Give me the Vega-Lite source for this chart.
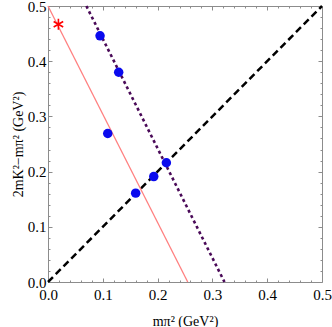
{
  "$schema": "https://vega.github.io/schema/vega-lite/v6.json",
  "width": 274,
  "height": 276,
  "autosize": {"type": "none"},
  "padding": {"left": 48, "top": 6, "right": 10, "bottom": 45},
  "background": "white",
  "config": {
    "view": {"stroke": "#8c8c8c", "strokeWidth": 1},
    "axis": {
      "grid": false,
      "domain": false,
      "tickColor": "#8c8c8c",
      "labelFont": "Liberation Serif",
      "labelFontSize": 15,
      "labelColor": "black",
      "labelFlush": false,
      "labelOverlap": false,
      "titleFont": "Liberation Serif",
      "titleFontSize": 14,
      "titleFontWeight": "normal",
      "titleColor": "black"
    }
  },
  "datasets": {
    "diag": [{"x": 0, "y": 0}, {"x": 0.5, "y": 0.5}],
    "pink": [{"x": 0, "y": 0.5}, {"x": 0.255, "y": 0}],
    "purple": [{"x": 0.07, "y": 0.5}, {"x": 0.322, "y": 0}],
    "pts": [
      {"x": 0.095, "y": 0.446},
      {"x": 0.129, "y": 0.380},
      {"x": 0.109, "y": 0.269},
      {"x": 0.160, "y": 0.161},
      {"x": 0.193, "y": 0.191},
      {"x": 0.216, "y": 0.216}
    ],
    "star": [{"x": 0.019, "y": 0.467}]
  },
  "resolve": {"axis": {"x": "independent", "y": "independent"}},
  "layer": [
    {
      "data": {"name": "diag"},
      "mark": {"type": "line", "color": "black", "strokeWidth": 2.5, "strokeDash": [7, 4]},
      "encoding": {
        "x": {"field": "x", "type": "quantitative", "scale": {"domain": [0, 0.5], "nice": false},
          "axis": {"orient": "bottom", "values": [0, 0.1, 0.2, 0.3, 0.4, 0.5], "format": ".1f", "tickSize": -4, "labelPadding": 9, "title": "mπ² (GeV²)", "titlePadding": 12}},
        "y": {"field": "y", "type": "quantitative", "scale": {"domain": [0, 0.5], "nice": false},
          "axis": {"orient": "left", "values": [0, 0.1, 0.2, 0.3, 0.4, 0.5], "format": ".1f", "tickSize": -4, "labelPadding": 6, "title": "2mK²−mπ² (GeV²)", "titlePadding": 2}}
      }
    },
    {
      "data": {"name": "pink"},
      "mark": {"type": "line", "color": "#ff8080", "strokeWidth": 1.3},
      "encoding": {
        "x": {"field": "x", "type": "quantitative", "scale": {"domain": [0, 0.5], "nice": false},
          "axis": {"orient": "bottom", "values": [0.02, 0.04, 0.06, 0.08, 0.12, 0.14, 0.16, 0.18, 0.22, 0.24, 0.26, 0.28, 0.32, 0.34, 0.36, 0.38, 0.42, 0.44, 0.46, 0.48], "labels": false, "tickSize": -2, "title": null}},
        "y": {"field": "y", "type": "quantitative", "scale": {"domain": [0, 0.5], "nice": false},
          "axis": {"orient": "left", "values": [0.02, 0.04, 0.06, 0.08, 0.12, 0.14, 0.16, 0.18, 0.22, 0.24, 0.26, 0.28, 0.32, 0.34, 0.36, 0.38, 0.42, 0.44, 0.46, 0.48], "labels": false, "tickSize": -2, "title": null}}
      }
    },
    {
      "data": {"name": "purple"},
      "mark": {"type": "line", "color": "#4a0a58", "strokeWidth": 2.6, "strokeDash": [3, 3]},
      "encoding": {
        "x": {"field": "x", "type": "quantitative", "scale": {"domain": [0, 0.5], "nice": false},
          "axis": {"orient": "top", "values": [0.1, 0.2, 0.3, 0.4], "labels": false, "tickSize": -4, "title": null}},
        "y": {"field": "y", "type": "quantitative", "scale": {"domain": [0, 0.5], "nice": false},
          "axis": {"orient": "right", "values": [0.1, 0.2, 0.3, 0.4], "labels": false, "tickSize": -4, "title": null}}
      }
    },
    {
      "data": {"name": "pts"},
      "mark": {"type": "point", "shape": "circle", "filled": true, "color": "#0a0aee", "opacity": 1, "size": 90},
      "encoding": {
        "x": {"field": "x", "type": "quantitative", "scale": {"domain": [0, 0.5], "nice": false},
          "axis": {"orient": "top", "values": [0.02, 0.04, 0.06, 0.08, 0.12, 0.14, 0.16, 0.18, 0.22, 0.24, 0.26, 0.28, 0.32, 0.34, 0.36, 0.38, 0.42, 0.44, 0.46, 0.48], "labels": false, "tickSize": -2, "title": null}},
        "y": {"field": "y", "type": "quantitative", "scale": {"domain": [0, 0.5], "nice": false},
          "axis": {"orient": "right", "values": [0.02, 0.04, 0.06, 0.08, 0.12, 0.14, 0.16, 0.18, 0.22, 0.24, 0.26, 0.28, 0.32, 0.34, 0.36, 0.38, 0.42, 0.44, 0.46, 0.48], "labels": false, "tickSize": -2, "title": null}}
      }
    },
    {
      "data": {"name": "star"},
      "mark": {"type": "point", "shape": "M0,-1L0,1M-0.87,-0.5L0.87,0.5M-0.87,0.5L0.87,-0.5", "filled": false, "color": "red", "strokeWidth": 1.6, "opacity": 1, "size": 120},
      "encoding": {
        "x": {"field": "x", "type": "quantitative", "scale": {"domain": [0, 0.5], "nice": false}, "axis": null},
        "y": {"field": "y", "type": "quantitative", "scale": {"domain": [0, 0.5], "nice": false}, "axis": null}
      }
    }
  ]
}
